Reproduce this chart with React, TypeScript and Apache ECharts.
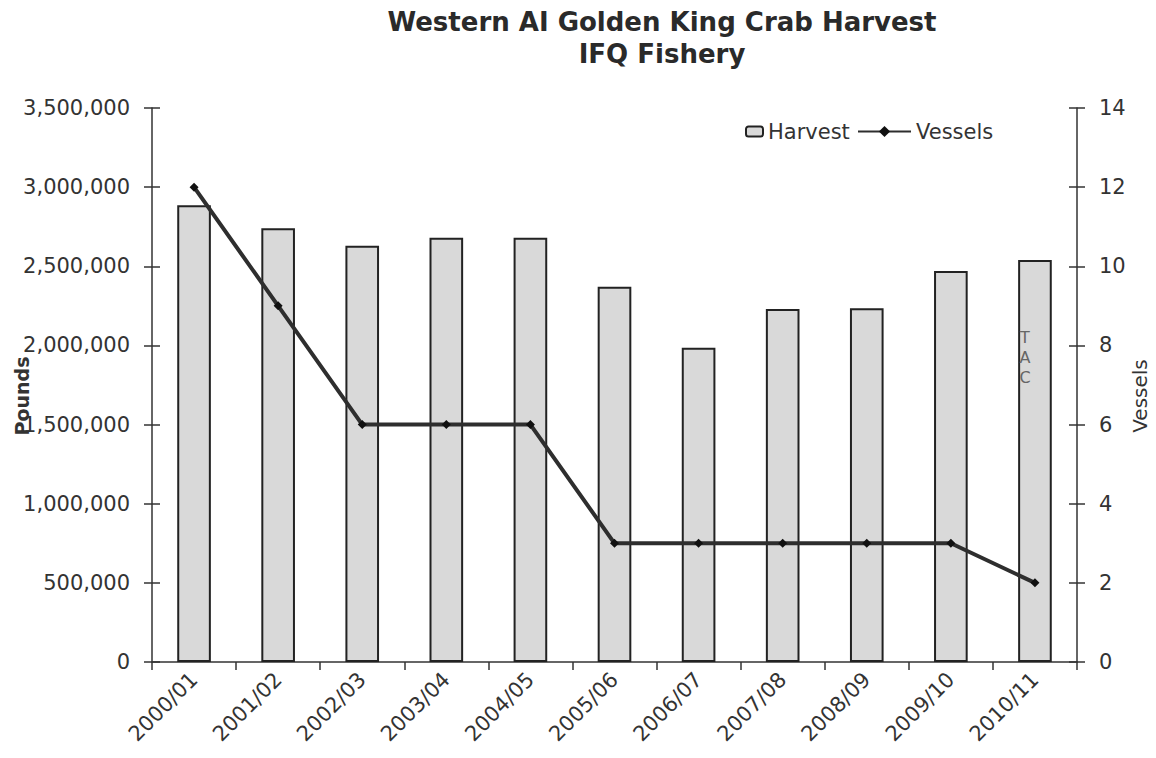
import React, { useEffect, useRef } from "react";
import * as echarts from "echarts";

const categories = [
  "2000/01", "2001/02", "2002/03", "2003/04", "2004/05", "2005/06",
  "2006/07", "2007/08", "2008/09", "2009/10", "2010/11",
];
const harvest = [
  2885000, 2740000, 2630000, 2680000, 2680000, 2370000,
  1985000, 2230000, 2235000, 2470000, 2540000,
];
const vessels = [12, 9, 6, 6, 6, 3, 3, 3, 3, 3, 2];
const titleLines = ["Western AI Golden King Crab Harvest", "IFQ Fishery"];
const tacNote = "T\nA\nC";

const FONT = "DejaVu Sans";
const TEXT = "#333";

export default function App() {
  const ref = useRef<HTMLDivElement>(null);
  useEffect(() => {
    if (!ref.current) return;
    const chart = echarts.init(ref.current, null, { renderer: "svg" });
    const fmt = (v: number) => v.toLocaleString("en-US");
    const lastIdx = harvest.length - 1;
    const harvestData = harvest.map((v, i) =>
      i === lastIdx
        ? {
            value: v,
            label: {
              show: true,
              formatter: tacNote,
              position: "insideTop",
              distance: 68,
              offset: [-10, 0],
              color: "#666",
              fontFamily: FONT,
              fontSize: 16,
              lineHeight: 20,
            },
          }
        : v
    );
    const innerTickAxis = (position: "left" | "right", max: number, interval: number) => ({
      type: "value",
      position,
      min: 0,
      max,
      interval,
      axisLine: { show: false },
      axisTick: { show: true, inside: true, length: 8, lineStyle: { color: "#333", width: 1.5 } },
      axisLabel: { show: false },
      splitLine: { show: false },
    });
    chart.setOption({
      animation: false,
      backgroundColor: "#fff",
      title: {
        text: titleLines.join("\n"),
        left: 657,
        textAlign: "center",
        top: 1,
        textStyle: {
          fontFamily: FONT,
          fontSize: 26,
          fontWeight: "bold",
          color: "#2a2a2a",
          lineHeight: 32,
        },
      },
      legend: [
        {
          data: ["Harvest"],
          left: 740,
          top: 116,
          itemWidth: 17,
          itemHeight: 10,
          itemGap: 10,
          textStyle: { fontFamily: FONT, fontSize: 21, color: TEXT },
        },
        {
          data: ["Vessels"],
          left: 852,
          top: 116,
          itemWidth: 53,
          itemHeight: 14,
          textStyle: { fontFamily: FONT, fontSize: 21, color: TEXT },
        },
      ],
      grid: { left: 152, right: 79, top: 108, bottom: 96, containLabel: false },
      xAxis: {
        type: "category",
        data: categories,
        axisLine: { lineStyle: { color: "#333", width: 1.5 } },
        axisTick: { show: true, length: 8, lineStyle: { color: "#333", width: 1.5 } },
        axisLabel: {
          rotate: 45,
          margin: 14,
          fontFamily: FONT,
          fontSize: 21,
          color: TEXT,
        },
      },
      yAxis: [
        {
          type: "value",
          position: "left",
          min: 0,
          max: 3500000,
          interval: 500000,
          axisLine: { show: true, lineStyle: { color: "#333", width: 1.5 } },
          axisTick: { show: true, length: 8, lineStyle: { color: "#333", width: 1.5 } },
          axisLabel: { formatter: fmt, margin: 22, fontFamily: FONT, fontSize: 21, color: TEXT },
          splitLine: { show: false },
        },
        {
          type: "value",
          position: "right",
          min: 0,
          max: 14,
          interval: 2,
          axisLine: { show: true, lineStyle: { color: "#333", width: 1.5 } },
          axisTick: { show: true, length: 8, lineStyle: { color: "#333", width: 1.5 } },
          axisLabel: { margin: 22, fontFamily: FONT, fontSize: 21, color: TEXT },
          splitLine: { show: false },
        },
        innerTickAxis("left", 3500000, 500000),
        innerTickAxis("right", 14, 2),
      ],
      graphic: [
        {
          type: "text",
          x: 22,
          y: 396,
          rotation: Math.PI / 2,
          style: {
            text: "Pounds",
            fontFamily: FONT,
            fontSize: 19,
            fontWeight: "bold",
            fill: "#333",
            align: "center",
            verticalAlign: "middle",
          },
        },
        {
          type: "text",
          x: 1140,
          y: 396,
          rotation: Math.PI / 2,
          style: {
            text: "Vessels",
            fontFamily: FONT,
            fontSize: 20,
            fill: "#333",
            align: "center",
            verticalAlign: "middle",
          },
        },
      ],
      series: [
        {
          name: "Harvest",
          type: "bar",
          yAxisIndex: 0,
          barWidth: "40%",
          data: harvestData,
          itemStyle: { color: "#d9d9d9", borderColor: "#222", borderWidth: 2 },
        },
        {
          name: "Vessels",
          type: "line",
          yAxisIndex: 1,
          data: vessels,
          symbol: "diamond",
          symbolSize: 9,
          lineStyle: { color: "#2e2e2e", width: 4 },
          itemStyle: { color: "#111" },
          z: 5,
        },
      ],
    });
    return () => chart.dispose();
  }, []);
  return (
    <div
      ref={ref}
      style={{ position: "absolute", left: 0, top: 0, width: 1156, height: 758, background: "#fff" }}
    />
  );
}
